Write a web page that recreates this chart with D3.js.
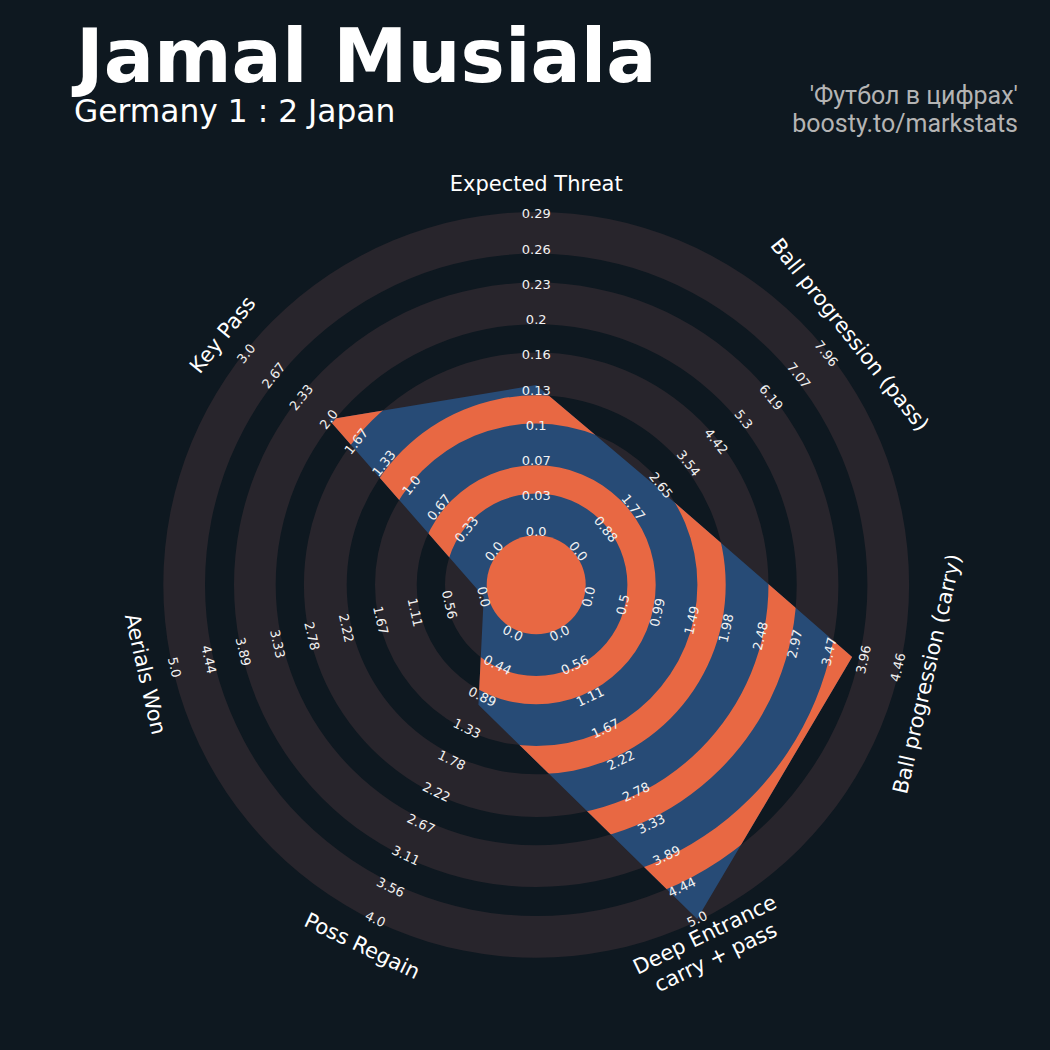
<!DOCTYPE html>
<html>
<head>
<meta charset="utf-8">
<script src="https://cdn.jsdelivr.net/npm/d3@7"></script>
<style>
body { margin: 0; background: #0e1820; }
svg { display: block; }
</style>
</head>
<body>
<div id="chart"></div>
<script>
// radar values
var params = ['Expected Threat', 'Ball progression (pass)', 'Ball progression (carry)',
              'Deep Entrance\ncarry + pass', 'Poss Regain', 'Aerials Won', 'Key Pass'];
var values = [0.135, 2.55, 3.8, 5.0, 1.0, 0.0, 2.0];
var rangeMin = [0, 0, 0, 0, 0, 0, 0];
var rangeMax = [0.2935, 7.956, 4.46, 5.0, 4.0, 5.0, 3.0];
var tickLabels = [
  ['0.0', '0.03', '0.07', '0.1', '0.13', '0.16', '0.2', '0.23', '0.26', '0.29'],
  ['0.0', '0.88', '1.77', '2.65', '3.54', '4.42', '5.3', '6.19', '7.07', '7.96'],
  ['0.0', '0.5', '0.99', '1.49', '1.98', '2.48', '2.97', '3.47', '3.96', '4.46'],
  ['0.0', '0.56', '1.11', '1.67', '2.22', '2.78', '3.33', '3.89', '4.44', '5.0'],
  ['0.0', '0.44', '0.89', '1.33', '1.78', '2.22', '2.67', '3.11', '3.56', '4.0'],
  ['0.0', '0.56', '1.11', '1.67', '2.22', '2.78', '3.33', '3.89', '4.44', '5.0'],
  ['0.0', '0.33', '0.67', '1.0', '1.33', '1.67', '2.0', '2.33', '2.67', '3.0']
];
var title = 'Jamal Musiala';
var subtitle = 'Germany 1 : 2 Japan';
var credits = ["'Футбол в цифрах'", 'boosty.to/markstats'];

var width = 1050, height = 1050;
var cx = 536.2, cy = 584.8;
var bg = '#0e1820', ringGray = '#28252c', blue = '#274b76', orange = '#e86843';
var fontMain = '"DejaVu Sans", sans-serif';

// ring edges (px)
var grayBands = [[49.5, 91.2], [119.5, 161.2], [189.5, 232.2], [260.5, 302.2], [331.2, 372.9]];
var orangeBands = [[91.2, 119.5], [161.2, 189.5], [232.2, 260.5], [302.2, 331.2]];
var centerR = 49.5;
var rInner = 53.8, rOuter = 371, paramR = 401;

var n = params.length;
var angle = d3.scaleLinear().domain([0, n]).range([0, 2 * Math.PI]);
var scales = params.map(function(p, i) {
  return d3.scaleLinear().domain([rangeMin[i], rangeMax[i]]).range([rInner, rOuter]);
});
var labelR = d3.scaleLinear().domain([0, 9]).range([rInner, rOuter]);

function rot(i) {
  var a = angle(i) * 180 / Math.PI;
  if (a > 90 && a < 270) return a - 180;
  if (a >= 270) return a - 360;
  return a;
}
function pt(i, r) {
  var a = angle(i);
  return [r * Math.sin(a), -r * Math.cos(a)];
}

var svg = d3.select('#chart').append('svg')
  .attr('width', width).attr('height', height);
svg.append('rect').attr('width', width).attr('height', height).attr('fill', bg);

var g = svg.append('g').attr('transform', 'translate(' + cx + ',' + cy + ')');

var arc = d3.arc().startAngle(0).endAngle(2 * Math.PI);

// gray rings outside the radar
g.selectAll('.ring').data(grayBands).enter().append('path')
  .attr('class', 'ring')
  .attr('d', function(d) { return arc({innerRadius: d[0], outerRadius: d[1]}); })
  .attr('fill', ringGray);

// radar polygon
var polyPts = values.map(function(v, i) { return pt(i, scales[i](v)); });
var line = d3.line().curve(d3.curveLinearClosed);
g.append('path').attr('d', line(polyPts)).attr('fill', blue);

svg.append('clipPath').attr('id', 'radarClip')
  .append('path')
  .attr('transform', 'translate(' + cx + ',' + cy + ')')
  .attr('d', line(polyPts));

g.append('g').attr('clip-path', 'url(#radarClip)')
  .attr('transform', 'translate(' + (-cx) + ',' + (-cy) + ')')
  .append('g').attr('transform', 'translate(' + cx + ',' + cy + ')')
  .selectAll('path').data(orangeBands).enter().append('path')
  .attr('d', function(d) { return arc({innerRadius: d[0], outerRadius: d[1]}); })
  .attr('fill', orange);

g.append('circle').attr('r', centerR).attr('fill', orange);

// range labels
params.forEach(function(p, i) {
  g.append('g').selectAll('text').data(tickLabels[i]).enter().append('text')
    .attr('transform', function(d, k) {
      var q = pt(i, labelR(k));
      return 'translate(' + q[0] + ',' + q[1] + ') rotate(' + rot(i) + ')';
    })
    .attr('text-anchor', 'middle')
    .attr('dominant-baseline', 'central')
    .attr('font-family', fontMain)
    .attr('font-size', '13px')
    .attr('fill', '#f2f2f2')
    .text(function(d) { return d; });
});

// param labels
params.forEach(function(p, i) {
  var q = pt(i, paramR);
  var lines = p.split('\n');
  var t = g.append('text')
    .attr('transform', 'translate(' + q[0] + ',' + q[1] + ') rotate(' + rot(i) + ')')
    .attr('text-anchor', 'middle')
    .attr('dominant-baseline', 'central')
    .attr('font-family', fontMain)
    .attr('font-size', '21px')
    .attr('fill', '#ffffff');
  lines.forEach(function(l, j) {
    t.append('tspan').attr('x', 0)
      .attr('dy', j === 0 ? (-(lines.length - 1) * 0.6) + 'em' : '1.2em')
      .text(l);
  });
});

// titles
svg.append('text').attr('x', 76).attr('y', 82)
  .attr('font-family', fontMain).attr('font-weight', 'bold')
  .attr('font-size', '74.5px').attr('fill', '#ffffff')
  .text(title);
svg.append('text').attr('x', 74).attr('y', 122)
  .attr('font-family', fontMain)
  .attr('font-size', '31.3px').attr('fill', '#ffffff')
  .text(subtitle);
svg.selectAll('.credit').data(credits).enter().append('text')
  .attr('class', 'credit')
  .attr('x', 1018).attr('y', function(d, i) { return 104 + i * 28; })
  .attr('text-anchor', 'end')
  .attr('font-family', 'Roboto, sans-serif')
  .attr('font-size', '25px').attr('fill', '#b4b4b4')
  .text(function(d) { return d; });
</script>
</body>
</html>
